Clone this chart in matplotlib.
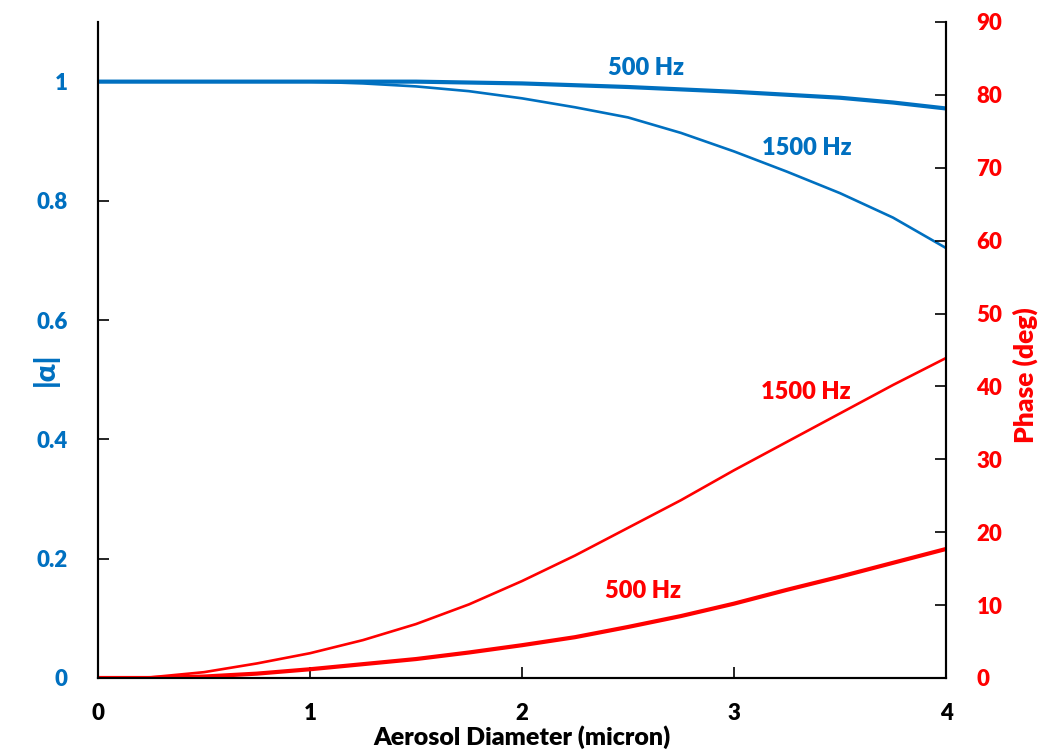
import numpy as np
import matplotlib
matplotlib.use("Agg")
from matplotlib import pyplot as plt

W = "heavy"
plt.rcParams.update({
    "font.size": 16,
    "font.family": ["Lato", "DejaVu Sans"],
    "font.weight": W,
    "axes.labelweight": W})

BLUE = "#0070C0"
RED = "#FF0000"

# |alpha| vs aerosol diameter (left axis)
x_a500 = [0, 0.5, 1, 1.5, 2, 2.5, 3, 3.25, 3.5, 3.75, 4]
a500 = [1, 1, 1, 1, 0.997, 0.991, 0.983, 0.978, 0.973, 0.965, 0.955]
x_a1500 = [0, 0.5, 1, 1.25, 1.5, 1.75, 2, 2.25, 2.5, 2.75, 3, 3.25, 3.5, 3.75, 4]
a1500 = [1, 1, 1, 0.997, 0.992, 0.984, 0.972, 0.957, 0.940, 0.914, 0.883,
         0.849, 0.813, 0.772, 0.721]

# phase (deg) vs aerosol diameter (right axis)
x_p = [0, 0.25, 0.5, 0.75, 1, 1.25, 1.5, 1.75, 2, 2.25, 2.5, 2.75, 3,
       3.25, 3.5, 3.75, 4]
p1500 = [0, 0.1, 0.8, 2.0, 3.4, 5.2, 7.4, 10.1, 13.3, 16.8, 20.6, 24.4, 28.5,
         32.4, 36.3, 40.2, 43.9]
p500 = [0, 0, 0.2, 0.6, 1.2, 1.9, 2.6, 3.5, 4.5, 5.6, 7.0, 8.5, 10.2,
        12.1, 13.9, 15.8, 17.7]

fig = plt.figure(figsize=(10.38, 7.52), dpi=100)
ax = fig.add_axes([98/1038, 1-678/752, 848/1038, 656/752])
ax2 = ax.twinx()

ax.plot(x_a500, a500, color=BLUE, lw=3.0)
ax.plot(x_a1500, a1500, color=BLUE, lw=1.9)
ax2.plot(x_p, p1500, color=RED, lw=1.9)
ax2.plot(x_p, p500, color=RED, lw=3.0)

kw = dict(ha="center", va="center", fontweight=W, fontsize=17)
ax.text(2.585, 1.023, "500 Hz", color=BLUE, **kw)
ax.text(3.344, 0.889, "1500 Hz", color=BLUE, **kw)
ax2.text(3.34, 39.2, "1500 Hz", color=RED, **kw)
ax2.text(2.571, 11.9, "500 Hz", color=RED, **kw)

ax.set_xlim(0, 4)
ax.set_ylim(0, 1.1)
ax2.set_ylim(0, 90)
ax.set_xticks([0, 1, 2, 3, 4])
ax.set_xticklabels(["0", "1", "2", "3", "4"], fontweight=W)
ax.set_yticks([0, 0.2, 0.4, 0.6, 0.8, 1.0])
ax.set_yticklabels(["0", "0.2", "0.4", "0.6", "0.8", "1"], fontweight=W)
ax2.set_yticks(range(0, 91, 10))
ax2.set_yticklabels([str(v) for v in range(0, 91, 10)], fontweight=W)

ax.tick_params(axis="x", direction="in", length=8, width=1.2, pad=18)
ax.tick_params(axis="y", direction="in", length=8, width=1.2, pad=22,
               labelcolor=BLUE)
ax2.tick_params(axis="y", direction="in", length=8, width=1.2, pad=22,
                labelcolor=RED)

for a in (ax, ax2):
    a.spines["top"].set_visible(False)
    for s in ("left", "right", "bottom"):
        a.spines[s].set_linewidth(1.5)

ax.set_xlabel("Aerosol Diameter (micron)", labelpad=1, fontsize=18,
              fontweight=W)
ax.set_ylabel("|\u03b1|", color=BLUE, fontsize=21, fontweight=W,
              ha="center", va="center")
ax.yaxis.set_label_coords(-0.0625, 0.47)
ax2.set_ylabel("Phase (deg)", color=RED, fontsize=19, fontweight=W,
               ha="center", va="center")
ax2.yaxis.set_label_coords(1.093, 0.462)

fig.savefig("out.png", dpi=100)
